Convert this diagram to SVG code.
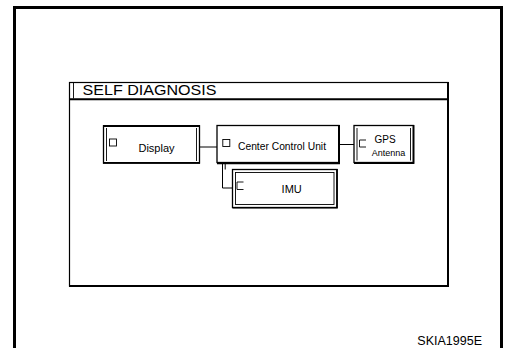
<svg xmlns="http://www.w3.org/2000/svg" width="511" height="348" viewBox="0 0 511 348">
<style>
.frame{fill:none;stroke:#000;stroke-width:3}
.box{fill:#fff;stroke:#000;stroke-width:1.3}
.in{fill:none;stroke:#000;stroke-width:0.9}
.cb{fill:none;stroke:#000;stroke-width:0.9}
.con{fill:none;stroke:#000;stroke-width:1}
text{font-family:"Liberation Sans",Arial,sans-serif;fill:#000}
</style>
<rect x="0" y="0" width="511" height="348" fill="#fff"/>
<path class="frame" d="M14.5,352 V7.5 H501.5 V352"/>
<g id="screen">
<rect x="69.5" y="82.5" width="378.5" height="203.5" fill="#fff" stroke="#000" stroke-width="1.2"/>
<path d="M448,82 V287 M69,286 H449" stroke="#000" stroke-width="2" fill="none"/>
<line x1="69" y1="99.3" x2="448" y2="99.3" stroke="#000" stroke-width="2"/>
<line x1="73.5" y1="83" x2="73.5" y2="98.5" stroke="#000" stroke-width="0.9"/>
<text x="82.5" y="95" font-size="15.5" textLength="134" lengthAdjust="spacingAndGlyphs">SELF DIAGNOSIS</text>
</g>
<g id="connectors">
<line class="con" x1="199.5" y1="147" x2="217" y2="147"/>
<line class="con" x1="339" y1="144.5" x2="354" y2="144.5"/>
<path class="con" d="M222.5,163 V188 H232.5"/>
<path class="con" d="M225.2,163 V169.5"/>
</g>
<g id="display">
<rect class="box" x="103.5" y="125.8" width="96" height="37.2"/>
<line x1="103" y1="126" x2="200" y2="126" stroke="#000" stroke-width="1.8"/>
<line x1="103" y1="162.8" x2="200" y2="162.8" stroke="#000" stroke-width="1.8"/>
<line class="in" x1="106.5" y1="128" x2="106.5" y2="161"/>
<line class="in" x1="196.5" y1="128" x2="196.5" y2="161"/>
<rect class="cb" x="109.5" y="139" width="7" height="7"/>
<text x="156.5" y="152" font-size="11" text-anchor="middle">Display</text>
</g>
<g id="ccu">
<rect class="box" x="217" y="125.5" width="122" height="37"/>
<path d="M339,125 V163.2 H217" stroke="#000" stroke-width="2" fill="none"/>
<rect class="cb" x="222.8" y="139.5" width="7" height="7"/>
<text x="238" y="149.5" font-size="10.2" textLength="88" lengthAdjust="spacingAndGlyphs">Center Control Unit</text>
</g>
<g id="gps">
<rect class="box" x="354" y="125.5" width="59.5" height="37"/>
<path d="M413.5,125 V163 H354" stroke="#000" stroke-width="1.8" fill="none"/>
<line class="in" x1="357" y1="128" x2="357" y2="160.5"/>
<line class="in" x1="410.5" y1="128" x2="410.5" y2="160.5"/>
<path class="cb" d="M366,140 H359.5 V147 H366"/>
<text x="385" y="142.5" font-size="10" text-anchor="middle">GPS</text>
<text x="388.5" y="155.7" font-size="9" text-anchor="middle">Antenna</text>
</g>
<g id="imu">
<rect class="box" x="232.5" y="169.5" width="104.5" height="38"/>
<path d="M337,169 V207.8 H232.5" stroke="#000" stroke-width="1.6" fill="none"/>
<rect class="in" x="235.5" y="172.5" width="98.5" height="32"/>
<path class="cb" d="M243.5,182 H237 V189.5 H243.5"/>
<text x="291.7" y="192.5" font-size="11" text-anchor="middle">IMU</text>
</g>
<text x="482" y="345" font-size="12.5" text-anchor="end">SKIA1995E</text>
</svg>
